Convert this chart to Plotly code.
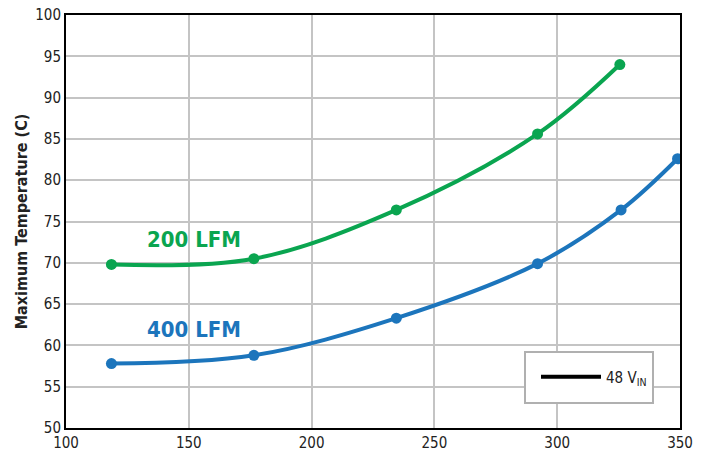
import plotly.graph_objects as go

power_200 = [118.5, 176.5, 234.5, 292, 325.5]
temp_200 = [69.8, 70.5, 76.4, 85.6, 94.0]
power_400 = [118.5, 176.5, 234.5, 292, 326, 349]
temp_400 = [57.8, 58.8, 63.3, 69.9, 76.4, 82.6]

x_ticks = [100, 150, 200, 250, 300, 350]
y_ticks = [50, 55, 60, 65, 70, 75, 80, 85, 90, 95, 100]

green = "#0AA550"
blue = "#1C75BC"
font_family = "Liberation Sans Narrow, DejaVu Sans Condensed, Arial Narrow, sans-serif"

fig = go.Figure()
fig.add_trace(go.Scatter(x=power_200, y=temp_200, mode="lines+markers",
                         line=dict(color=green, width=4, shape="spline", smoothing=1.0),
                         marker=dict(size=11, color=green), showlegend=False))
fig.add_trace(go.Scatter(x=power_400, y=temp_400, mode="lines+markers",
                         line=dict(color=blue, width=4, shape="spline", smoothing=1.0),
                         marker=dict(size=11, color=blue), showlegend=False))
fig.add_trace(go.Scatter(x=[None], y=[None], mode="lines", name="48 V<sub>IN</sub>",
                         line=dict(color="black", width=4)))

fig.add_annotation(x=152, y=72.8, text="<b>200 LFM</b>", showarrow=False,
                   font=dict(color=green, size=22, family=font_family))
fig.add_annotation(x=152, y=61.9, text="<b>400 LFM</b>", showarrow=False,
                   font=dict(color=blue, size=22, family=font_family))

# legend box
fig.add_shape(type="rect", xref="paper", yref="paper",
              x0=(525 - 66) / 614, x1=(653 - 66) / 614,
              y0=(428 - 403) / 413, y1=(428 - 352) / 413,
              line=dict(color="#B0B0B0", width=2), fillcolor="white", layer="above")

fig.update_layout(
    width=702, height=451,
    margin=dict(l=66, r=22, t=15, b=23, autoexpand=False),
    plot_bgcolor="white", paper_bgcolor="white",
    font=dict(family=font_family, size=15, color="#222"),
    legend=dict(x=(536 - 66) / 614, y=(428 - 377) / 413, xanchor="left", yanchor="middle",
                borderwidth=0, bgcolor="rgba(0,0,0,0)",
                font=dict(size=15, color="#222"), itemwidth=60),
)
fig.update_xaxes(range=[100, 350], tickvals=x_ticks, showgrid=True, gridcolor="#C4C4C4",
                 gridwidth=1.5, showline=True, linecolor="black", linewidth=2, mirror=True,
                 ticks="", zeroline=False, tickfont=dict(size=15), automargin=False)
fig.update_yaxes(range=[50, 100], tickvals=y_ticks, showgrid=True, gridcolor="#C4C4C4",
                 gridwidth=1.5, showline=True, linecolor="black", linewidth=2, mirror=True,
                 ticks="", zeroline=False, tickfont=dict(size=15), automargin=False,
                 title=dict(text="<b>Maximum Temperature (C)</b>", font=dict(size=16), standoff=4))

fig.write_html("out.html", post_script="document.body.style.margin='0';",
               config={"displayModeBar": False})
